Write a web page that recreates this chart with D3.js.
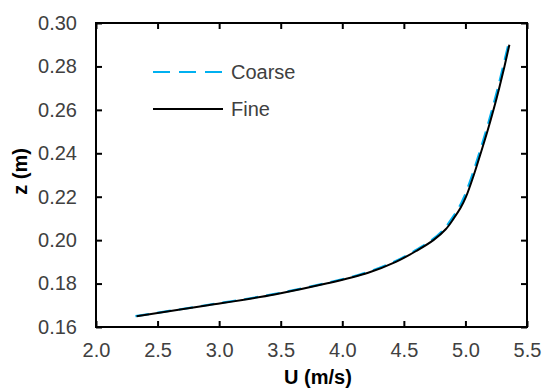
<!DOCTYPE html>
<html><head><meta charset="utf-8">
<script src="https://cdn.jsdelivr.net/npm/d3@7"></script>
<style>html,body{margin:0;padding:0;background:#fff;}svg{display:block;font-family:"Liberation Sans",Arial,sans-serif;}</style>
</head><body>
<svg id="c" width="544" height="390"></svg>
<script>
const zValues = [0.165,0.170,0.175,0.180,0.185,0.190,0.195,0.200,0.205,0.210,0.215,0.220,0.230,0.240,0.250,0.260,0.270,0.280,0.290];
const uFine   = [2.33,2.91,3.45,3.87,4.21,4.435,4.60,4.74,4.84,4.905,4.962,5.005,5.068,5.124,5.178,5.228,5.274,5.317,5.357];
const uCoarse = [2.32,2.89,3.43,3.85,4.19,4.42,4.585,4.725,4.825,4.89,4.947,4.99,5.055,5.112,5.166,5.216,5.263,5.306,5.348];
const xTicks = [2.0,2.5,3.0,3.5,4.0,4.5,5.0,5.5];
const yTicks = [0.16,0.18,0.20,0.22,0.24,0.26,0.28,0.30];
const seriesNames = ["Coarse","Fine"];

const svg = d3.select("#c");
const L=96,R=527,T=23,B=327;
const x = d3.scaleLinear().domain([2.0,5.5]).range([L,R]);
const y = d3.scaleLinear().domain([0.16,0.30]).range([B,T]);
const tickLen = 6;
const labelColor = "#404040";

const g = svg.append("g");
const axB = g.append("g").attr("transform",`translate(0,${B})`).call(d3.axisBottom(x).tickValues(xTicks).tickSizeInner(-tickLen).tickSizeOuter(0).tickPadding(16).tickFormat(d3.format(".1f")));
const axT = g.append("g").attr("transform",`translate(0,${T})`).call(d3.axisTop(x).tickValues(xTicks).tickSizeInner(-tickLen).tickSizeOuter(0).tickFormat(""));
const axL = g.append("g").attr("transform",`translate(${L},0)`).call(d3.axisLeft(y).tickValues(yTicks).tickSizeInner(-tickLen).tickSizeOuter(0).tickPadding(19).tickFormat(d3.format(".2f")));
const axR = g.append("g").attr("transform",`translate(${R},0)`).call(d3.axisRight(y).tickValues(yTicks).tickSizeInner(-tickLen).tickSizeOuter(0).tickFormat(""));
[axB,axT,axL,axR].forEach(a=>{
  a.select(".domain").remove();
  a.selectAll(".tick line").attr("stroke","#000").attr("stroke-width",2);
  a.selectAll(".tick text").attr("fill",labelColor).style("font-size","20px");
});
axB.selectAll(".tick text").attr("dy","0.71em");
svg.append("rect").attr("x",L).attr("y",T).attr("width",R-L).attr("height",B-T)
  .attr("fill","none").attr("stroke","#000").attr("stroke-width",2);

const line = d3.line().x(d=>x(d[0])).y(d=>y(d[1])).curve(d3.curveCatmullRom.alpha(0.5));
const coarse = uCoarse.map((u,i)=>[u,zValues[i]]);
const fine = uFine.map((u,i)=>[u,zValues[i]]);
svg.append("path").datum(coarse).attr("d",line).attr("fill","none")
  .attr("stroke","#00B0F0").attr("stroke-width",2.2).attr("stroke-dasharray","14,8");
svg.append("path").datum(fine).attr("d",line).attr("fill","none")
  .attr("stroke","#000").attr("stroke-width",2);

const leg = svg.append("g");
const styles = [{c:"#00B0F0",d:"17,9"},{c:"#000",d:null}];
seriesNames.forEach((n,i)=>{
  const yy = 72 + i*37;
  const ln = leg.append("line").attr("x1",153).attr("x2",223).attr("y1",yy).attr("y2",yy)
    .attr("stroke",styles[i].c).attr("stroke-width",2.2);
  if(styles[i].d) ln.attr("stroke-dasharray",styles[i].d);
  leg.append("text").attr("x",231).attr("y",yy).attr("dy","0.35em").attr("fill",labelColor)
    .style("font-size","20px").text(n);
});

svg.append("text").attr("x",318).attr("y",384).attr("text-anchor","middle")
  .style("font-size","20px").style("font-weight","bold").attr("fill","#000").text("U (m/s)");
svg.append("text").attr("transform","translate(27,171.5) rotate(-90)").attr("text-anchor","middle")
  .style("font-size","20px").style("font-weight","bold").attr("fill","#000").text("z (m)");
</script>
</body></html>
